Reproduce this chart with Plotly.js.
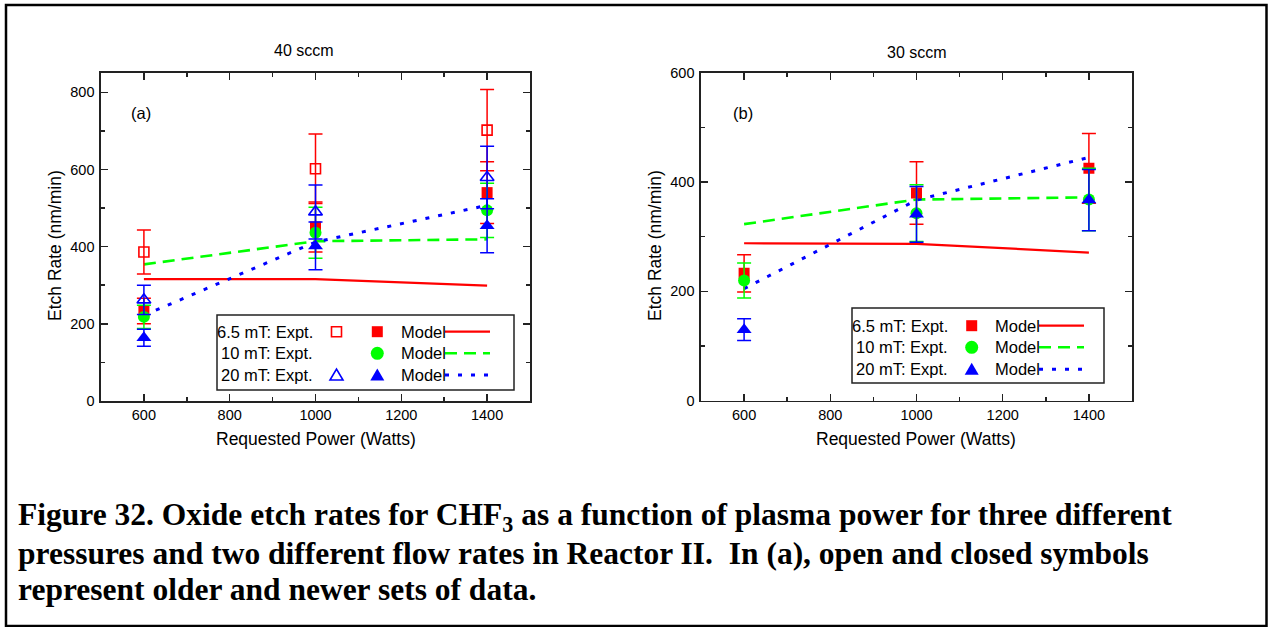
<!DOCTYPE html>
<html>
<head>
<meta charset="utf-8">
<script src="https://cdn.plot.ly/plotly-3.0.1.min.js"></script>
<style>
html,body{margin:0;padding:0;background:#fff;}
#chart{width:1270px;height:627px;}
</style>
</head>
<body>
<div id="chart"></div>
<script>
// ---------- data ----------
const power = [600, 1000, 1400];
const xTicks = [600, 800, 1000, 1200, 1400];
const yTicksA = [0, 200, 400, 600, 800];
const yTicksB = [0, 200, 400, 600];

// (a) 40 sccm
const a65OldExpt = [386, 602, 702];
const a65OldErr  = [57, 90, 105];
const a65Expt    = [233, 451, 540];
const a65Err     = [33, 65, 80];
const a10Expt    = [218, 436, 494];
const a10Err     = [30, 66, 70];
const a20OldExpt = [262, 490, 579];
const a20OldErr  = [38, 70, 81];
const a20Expt    = [164, 402, 454];
const a20Err     = [22, 62, 70];
const a65Model   = [316, 316, 299];
const a10Model   = [354, 414, 419];
const a20Model   = [222, 412, 507];

// (b) 30 sccm
const b65Expt  = [233, 380, 425];
const b65Err   = [34, 57, 64];
const b10Expt  = [220, 343, 368];
const b10Err   = [32, 52, 57];
const b20Expt  = [130, 341, 367];
const b20Err   = [20, 51, 56];
const b65Model = [288, 287, 271];
const b10Model = [323, 368, 372];
const b20Model = [205, 367, 445];

const legendLabels = ['6.5 mT: Expt.', '10 mT: Expt.', '20 mT: Expt.'];
const panelTitles = ['40 sccm', '30 sccm'];
const captionLines = [
  'Figure 32. Oxide etch rates for CHF<sub>3</sub> as a function of plasma power for three different',
  'pressures and two different flow rates in Reactor II.  In (a), open and closed symbols',
  'represent older and newer sets of data.'
];

// ---------- helpers ----------
const W = 1270, H = 627;
const X = p => p / W;
const Y = p => 1 - p / H;
const RED = '#ff0000', GREEN = '#00ff00', BLUE = '#0000ff';
const FONT = 'Liberation Sans, Arial, sans-serif';

function expt(xa, ya, y, err, color, symbol, size, open) {
  return {
    x: power, y: y, xaxis: xa, yaxis: ya, type: 'scatter', mode: 'markers',
    marker: open ? {symbol: symbol + '-open', size: size, color: color, line: {color: color, width: 1.6}}
                 : {symbol: symbol, size: size, color: color, line: {width: 0}},
    error_y: {type: 'data', array: err, visible: true, color: color, thickness: 1.5, width: 7},
    showlegend: false, hoverinfo: 'x+y'
  };
}
function model(xa, ya, y, color, dash, width) {
  return {x: power, y: y, xaxis: xa, yaxis: ya, type: 'scatter', mode: 'lines',
    line: {color: color, dash: dash, width: width}, showlegend: false};
}

const DASH_G = '12px,7px', DOT_B = '4px,9px';

const traces = [
  model('x', 'y', a65Model, RED, 'solid', 2.2),
  model('x', 'y', a10Model, GREEN, DASH_G, 2.6),
  model('x', 'y', a20Model, BLUE, DOT_B, 3),
  expt('x', 'y', a65OldExpt, a65OldErr, RED, 'square', 10, true),
  expt('x', 'y', a65Expt, a65Err, RED, 'square', 11, false),
  expt('x', 'y', a10Expt, a10Err, GREEN, 'circle', 12, false),
  expt('x', 'y', a20OldExpt, a20OldErr, BLUE, 'triangle-up', 12, true),
  expt('x', 'y', a20Expt, a20Err, BLUE, 'triangle-up', 13, false),

  model('x2', 'y2', b65Model, RED, 'solid', 2.2),
  model('x2', 'y2', b10Model, GREEN, DASH_G, 2.6),
  model('x2', 'y2', b20Model, BLUE, DOT_B, 3),
  expt('x2', 'y2', b65Expt, b65Err, RED, 'square', 11, false),
  expt('x2', 'y2', b10Expt, b10Err, GREEN, 'circle', 12, false),
  expt('x2', 'y2', b20Expt, b20Err, BLUE, 'triangle-up', 13, false)
];

function xaxis(domain) {
  return {domain: domain, range: [500, 1500], tickvals: xTicks, ticks: 'inside', ticklen: 7,
    tickwidth: 1.5, tickcolor: '#222', mirror: 'ticks', showline: true, linecolor: '#222', linewidth: 1.6,
    showgrid: false, zeroline: false, tickfont: {family: FONT, size: 14.5, color: '#000'},
    minor: {ticks: 'inside', dtick: 100, ticklen: 4, tickwidth: 1.5, tickcolor: '#222', showgrid: false}};
}
function yaxis(domain, range, ticks, anchor) {
  return {domain: domain, range: range, tickvals: ticks, ticks: 'inside', ticklen: 7, anchor: anchor,
    tickwidth: 1.5, tickcolor: '#222', mirror: 'ticks', showline: true, linecolor: '#222', linewidth: 1.6,
    showgrid: false, zeroline: false, tickfont: {family: FONT, size: 14.5, color: '#000'}, ticklabelstandoff: 2,
    minor: {ticks: 'inside', dtick: 100, ticklen: 4, tickwidth: 1.5, tickcolor: '#222', showgrid: false}};
}

const annotations = [];
const shapes = [];
function txt(x, y, text, size, opts) {
  annotations.push(Object.assign({xref: 'paper', yref: 'paper', x: X(x), y: Y(y), text: text,
    showarrow: false, font: {family: FONT, size: size, color: '#000'}, xanchor: 'center', yanchor: 'middle'}, opts || {}));
}

// panel titles, labels
txt(304, 50, panelTitles[0], 16);
txt(917, 52, panelTitles[1], 16);
txt(141, 113, '(a)', 16.5);
txt(742.5, 113, '(b)', 16.5);
txt(316, 439, 'Requested Power (Watts)', 17.5);
txt(916, 439, 'Requested Power (Watts)', 17.5);
txt(55, 246, 'Etch Rate (nm/min)', 17.5, {textangle: -90});
txt(655, 246, 'Etch Rate (nm/min)', 17.5, {textangle: -90});

// legends
function legend(box, rows, labelRight, openX, fillX, modelLeft, lineX, withOpen) {
  shapes.push({type: 'rect', xref: 'paper', yref: 'paper', x0: X(box[0]), x1: X(box[1]), y0: Y(box[2]), y1: Y(box[3]),
    line: {color: '#222', width: 1.5}, fillcolor: 'rgba(255,255,255,1)', layer: 'above'});
  const colors = [RED, GREEN, BLUE];
  const dashes = ['solid', DASH_G, DOT_B];
  const widths = [2.2, 2.6, 3];
  rows.forEach((ry, i) => {
    txt(labelRight, ry, legendLabels[i], 16.5, {xanchor: 'right'});
    txt(modelLeft, ry, 'Model', 16.5, {xanchor: 'left'});
    shapes.push({type: 'line', xref: 'paper', yref: 'paper', x0: X(lineX[0]), x1: X(lineX[1]), y0: Y(ry), y1: Y(ry),
      line: {color: colors[i], width: widths[i], dash: dashes[i]}, layer: 'above'});
    const c = colors[i];
    if (i === 0) {
      shapes.push({type: 'rect', xref: 'paper', yref: 'paper', x0: X(fillX - 5.5), x1: X(fillX + 5.5), y0: Y(ry - 5.5), y1: Y(ry + 5.5),
        fillcolor: c, line: {width: 0}, layer: 'above'});
    } else if (i === 1) {
      shapes.push({type: 'circle', xref: 'paper', yref: 'paper', x0: X(fillX - 6.5), x1: X(fillX + 6.5), y0: Y(ry - 6.5), y1: Y(ry + 6.5),
        fillcolor: c, line: {width: 0}, layer: 'above'});
    } else {
      shapes.push({type: 'path', xref: 'paper', yref: 'paper',
        path: `M ${X(fillX - 7)},${Y(ry + 5.5)} L ${X(fillX + 7)},${Y(ry + 5.5)} L ${X(fillX)},${Y(ry - 6.5)} Z`,
        fillcolor: c, line: {width: 0}, layer: 'above'});
    }
    if (withOpen) {
      if (i === 0) {
        shapes.push({type: 'rect', xref: 'paper', yref: 'paper', x0: X(openX - 5), x1: X(openX + 5), y0: Y(ry - 5), y1: Y(ry + 5),
          line: {color: c, width: 1.6}, layer: 'above'});
      } else if (i === 2) {
        shapes.push({type: 'path', xref: 'paper', yref: 'paper',
          path: `M ${X(openX - 6.5)},${Y(ry + 5)} L ${X(openX + 6.5)},${Y(ry + 5)} L ${X(openX)},${Y(ry - 6)} Z`,
          line: {color: c, width: 1.6}, layer: 'above'});
      }
    }
  });
}
legend([217, 514, 315, 390], [331.7, 353.3, 375], 315, 336.5, 377.3, 398.5, [445, 490], true);
legend([852, 1104, 308, 383], [325.7, 347.3, 369.3], 950, null, 971.7, 992.7, [1039, 1084], false);

// caption
const capY = [517, 553, 589];
captionLines.forEach((t, i) => {
  annotations.push({xref: 'paper', yref: 'paper', x: X(16), y: Y(capY[i]), xanchor: 'left', yanchor: 'middle',
    text: '<b>' + t + '</b>', showarrow: false,
    font: {family: 'Liberation Serif, Times New Roman, serif', size: 31.5, color: '#000'}});
});

// outer border
shapes.push({type: 'rect', xref: 'paper', yref: 'paper', x0: X(6), x1: X(1266.5), y0: Y(5), y1: Y(626),
  line: {color: '#000', width: 2.5}, layer: 'above'});

const layout = {
  width: W, height: H,
  margin: {l: 0, r: 0, t: 0, b: 0, autoexpand: false},
  paper_bgcolor: '#fff', plot_bgcolor: '#fff',
  showlegend: false,
  xaxis: Object.assign(xaxis([X(101), X(530)]), {anchor: 'y'}),
  yaxis: yaxis([Y(401), Y(73)], [0, 850], yTicksA, 'x'),
  xaxis2: Object.assign(xaxis([X(701), X(1132)]), {anchor: 'y2'}),
  yaxis2: yaxis([Y(400.7), Y(72.7)], [0, 600], yTicksB, 'x2'),
  annotations: annotations,
  shapes: shapes
};

Plotly.newPlot('chart', traces, layout, {displayModeBar: false, staticPlot: true});
</script>
</body>
</html>
